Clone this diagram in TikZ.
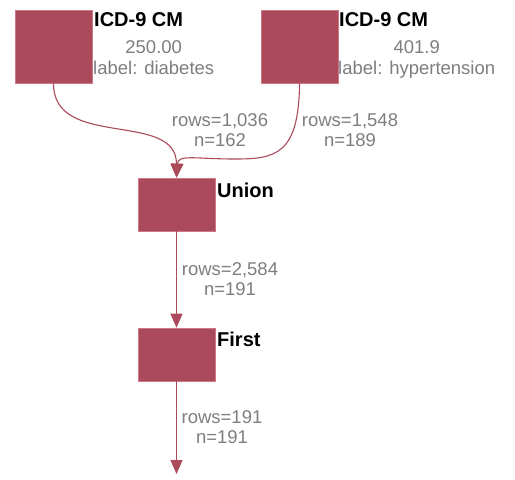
\documentclass[tikz,border=0pt]{standalone}
\usepackage{fontspec}
\setmainfont{Liberation Sans}
\usetikzlibrary{arrows.meta}
\definecolor{boxred}{RGB}{170,74,90}
\definecolor{boxedge}{RGB}{205,120,135}
\definecolor{labgray}{RGB}{128,124,128}
\tikzset{
  opbox/.style={fill=boxred,draw=boxedge,line width=0.6pt,minimum width=77pt,inner sep=0pt},
  head/.style={anchor=west,inner sep=0pt,font=\fontsize{20}{22}\selectfont\bfseries,text=black},
  body/.style={anchor=north west,inner sep=0pt,align=center,font=\fontsize{18.5}{21}\selectfont,text=labgray},
  elab/.style={inner sep=0pt,align=center,font=\fontsize{18.5}{20}\selectfont,text=labgray},
  edge/.style={draw=boxred,line width=1.1pt,-{Triangle[length=14pt,width=12pt]}}
}
\begin{document}
\begin{tikzpicture}[x=1pt,y=-1pt]
\useasboundingbox (0,0) rectangle (515,480);
% boxes
\node[opbox,minimum height=73pt] (icd1) at (53.5,46.5) {};
\node[opbox,minimum height=73pt] (icd2) at (299.5,46.5) {};
\node[opbox,minimum height=53pt] (union) at (176.5,204.5) {};
\node[opbox,minimum height=53pt] (first) at (176.5,354.5) {};
\coordinate (out) at (176.5,474);
% labels
\node[head] (h1) at (94,20) {ICD-9 CM};
\node[body] (b1) at (93,40) {250.00\\label: diabetes};
\node[head] (h2) at (339,20) {ICD-9 CM};
\node[body] (b2) at (338,40) {401.9\\label: hypertension};
\node[head] (hu) at (217,190) {Union};
\node[head] (hf) at (217,339) {First};
% edges
\draw[edge] (icd1.south) .. controls (53,150) and (176.5,110) .. (union.north);
\draw[edge] (icd2.south) .. controls (299,155) and (275,159) .. (235,159)
  .. controls (195,159) and (178,154) .. (union.north);
\draw[edge] (union.south) -- (first.north);
\draw[edge] (first.south) -- (out);
% edge labels
\node[elab] (l1) at (220,130) {rows=1,036\\n=162};
\node[elab] (l2) at (350,130) {rows=1,548\\n=189};
\node[elab] (l3) at (230,279) {rows=2,584\\n=191};
\node[elab] (l4) at (222,427) {rows=191\\n=191};
\end{tikzpicture}
\end{document}
